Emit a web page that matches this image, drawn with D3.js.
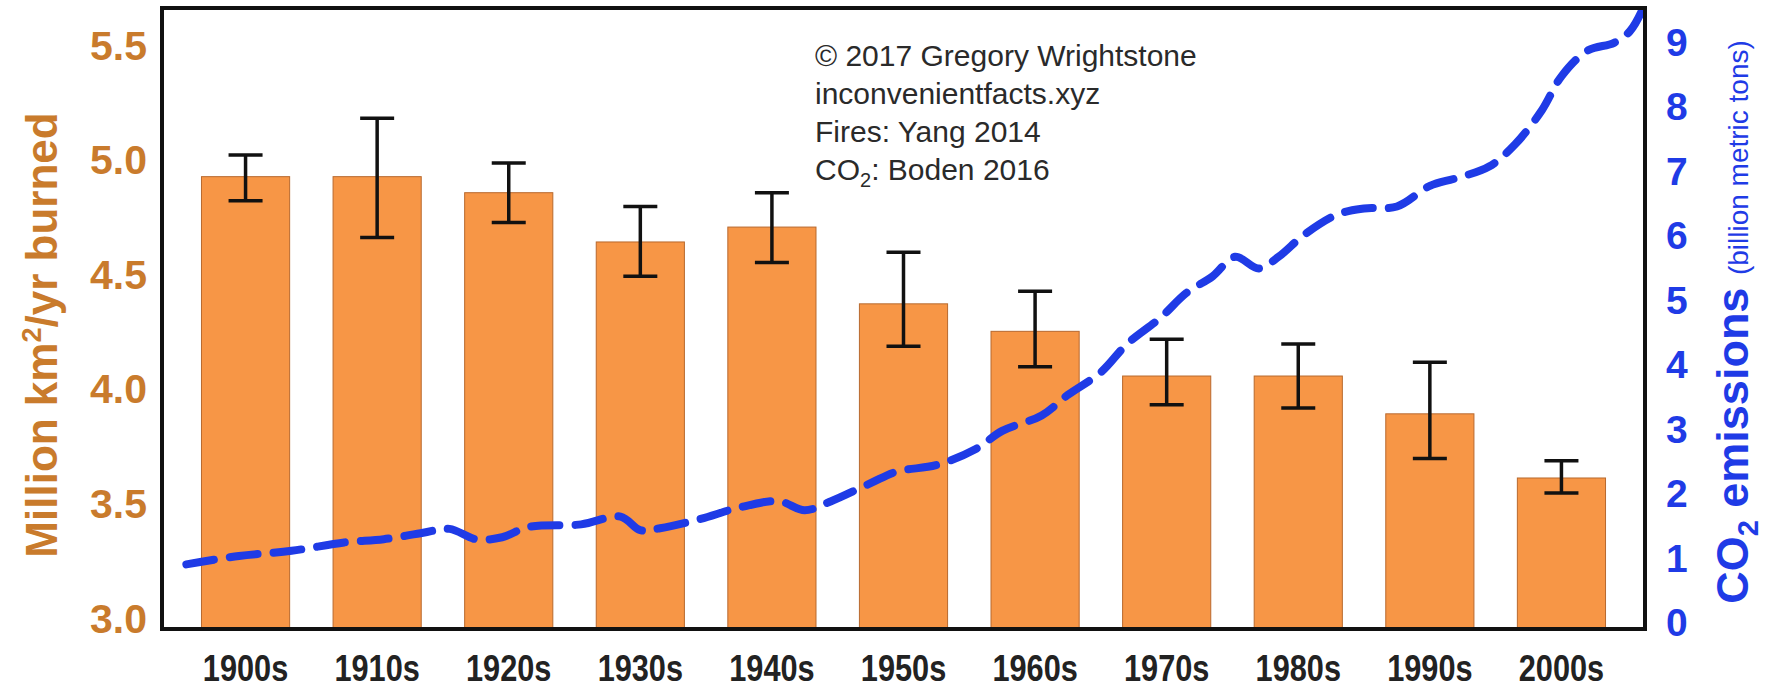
<!DOCTYPE html>
<html>
<head>
<meta charset="utf-8">
<script src="https://cdn.jsdelivr.net/npm/d3@7"></script>
<style>
  html, body { margin: 0; padding: 0; background: #fff; }
  #chart { width: 1768px; height: 690px; }
</style>
</head>
<body>
<div id="chart"></div>
<script>
// decades and burned area (million km2/yr) with error range
const decades = ["1900s", "1910s", "1920s", "1930s", "1940s", "1950s", "1960s", "1970s", "1980s", "1990s", "2000s"];
const burned = [4.93, 4.93, 4.86, 4.645, 4.71, 4.375, 4.255, 4.06, 4.06, 3.895, 3.615];
const burnedLow = [4.825, 4.665, 4.73, 4.495, 4.555, 4.19, 4.10, 3.935, 3.92, 3.70, 3.55];
const burnedHigh = [5.025, 5.185, 4.99, 4.80, 4.86, 4.60, 4.43, 4.22, 4.20, 4.12, 3.69];

// CO2 emissions (billion metric tons)
const co2Years = [1900, 1904, 1908, 1912, 1915, 1918, 1920, 1922, 1924, 1926, 1930, 1933, 1934.5, 1936, 1939, 1942, 1945, 1947, 1949, 1952, 1954, 1957, 1960, 1962, 1965, 1967, 1969.5, 1971.5, 1974, 1976, 1978, 1979.7, 1981.5, 1983, 1985, 1987.5, 1989.5, 1992, 1994.5, 1996.5, 1999, 2001, 2003, 2004.5, 2006.5, 2008.5, 2009.7, 2010.6];
const co2Values = [0.91, 1.04, 1.12, 1.25, 1.30, 1.40, 1.46, 1.30, 1.33, 1.49, 1.53, 1.65, 1.44, 1.47, 1.61, 1.79, 1.89, 1.75, 1.89, 2.17, 2.35, 2.45, 2.70, 2.98, 3.22, 3.54, 3.89, 4.33, 4.73, 5.12, 5.38, 5.68, 5.50, 5.68, 6.03, 6.34, 6.43, 6.46, 6.78, 6.90, 7.08, 7.43, 7.95, 8.48, 8.88, 9.00, 9.18, 9.49];

const leftTicks = [3.0, 3.5, 4.0, 4.5, 5.0, 5.5];
const rightTicks = [0, 1, 2, 3, 4, 5, 6, 7, 8, 9];

const notes = ["© 2017 Gregory Wrightstone", "inconvenientfacts.xyz", "Fires: Yang 2014"];

const width = 1768;
const height = 690;
const marginTop = 8;
const marginRight = 123;
const marginBottom = 61;
const marginLeft = 162;

const orange = "#c97b2c";
const blue = "#1f3be6";

const svg = d3.select("#chart")
    .append("svg")
    .attr("width", width)
    .attr("height", height)
    .attr("viewBox", `0 0 ${width} ${height}`)
    .style("font-family", "'Liberation Sans', Arial, sans-serif");

// x band scale for the bars
const x = d3.scaleBand()
    .domain(decades)
    .range([marginLeft, width - marginRight])
    .paddingInner(0.33)
    .paddingOuter(0.3);

// year scale for the line, decade midpoints sit on bar centres
const xYear = d3.scaleLinear()
    .domain([1904.5, 2004.5])
    .range([x("1900s") + x.bandwidth() / 2, x("2000s") + x.bandwidth() / 2]);

const y = d3.scaleLinear()
    .domain([2.956, 5.666])
    .range([height - marginBottom, marginTop]);

const y2 = d3.scaleLinear()
    .domain([-0.093, 9.54])
    .range([height - marginBottom, marginTop]);

// bars
svg.append("g")
    .selectAll("rect")
    .data(decades)
    .join("rect")
    .attr("x", d => x(d))
    .attr("y", (d, i) => y(burned[i]))
    .attr("width", x.bandwidth())
    .attr("height", (d, i) => y(y.domain()[0]) - y(burned[i]))
    .attr("fill", "#f79646")
    .attr("stroke", "#b8692e")
    .attr("stroke-width", 1);

// error bars
const capHalf = 17;
const err = svg.append("g")
    .attr("stroke", "#111")
    .attr("stroke-width", 3.5);

decades.forEach((d, i) => {
    const cx = x(d) + x.bandwidth() / 2;
    err.append("line")
        .attr("x1", cx).attr("x2", cx)
        .attr("y1", y(burnedLow[i])).attr("y2", y(burnedHigh[i]));
    err.append("line")
        .attr("x1", cx - capHalf).attr("x2", cx + capHalf)
        .attr("y1", y(burnedLow[i])).attr("y2", y(burnedLow[i]));
    err.append("line")
        .attr("x1", cx - capHalf).attr("x2", cx + capHalf)
        .attr("y1", y(burnedHigh[i])).attr("y2", y(burnedHigh[i]));
});

// CO2 dashed line
const co2 = co2Years.map((yr, i) => ({ year: yr, value: co2Values[i] }));
const line = d3.line()
    .x(d => xYear(d.year))
    .y(d => y2(d.value))
    .curve(d3.curveCatmullRom);

svg.append("path")
    .datum(co2)
    .attr("fill", "none")
    .attr("stroke", blue)
    .attr("stroke-width", 8)
    .attr("stroke-linecap", "round")
    .attr("stroke-dasharray", "28 16")
    .attr("d", line);

// plot frame
svg.append("rect")
    .attr("x", marginLeft)
    .attr("y", marginTop)
    .attr("width", width - marginLeft - marginRight)
    .attr("height", height - marginTop - marginBottom)
    .attr("fill", "none")
    .attr("stroke", "#111")
    .attr("stroke-width", 4);

// left axis
svg.append("g")
    .attr("transform", `translate(${marginLeft},0)`)
    .call(d3.axisLeft(y).tickValues(leftTicks).tickFormat(d3.format(".1f")).tickSize(0).tickPadding(15))
    .call(g => g.select(".domain").remove())
    .selectAll(".tick text")
    .attr("fill", orange)
    .style("font-family", "'Liberation Sans', Arial, sans-serif")
    .style("font-weight", "bold")
    .style("font-size", "41px");

// right axis
svg.append("g")
    .attr("transform", `translate(${width - marginRight},0)`)
    .call(d3.axisRight(y2).tickValues(rightTicks).tickFormat(d3.format("d")).tickSize(0).tickPadding(21))
    .call(g => g.select(".domain").remove())
    .selectAll(".tick text")
    .attr("fill", blue)
    .style("font-family", "'Liberation Sans', Arial, sans-serif")
    .style("font-weight", "bold")
    .style("font-size", "39px");

// bottom axis, narrow bold labels
svg.append("g")
    .attr("transform", `translate(0,${height - marginBottom})`)
    .call(d3.axisBottom(x).tickSize(0).tickPadding(0))
    .call(g => g.select(".domain").remove())
    .selectAll(".tick text")
    .attr("dy", null)
    .attr("y", 52)
    .attr("transform", "scale(0.83,1)")
    .attr("fill", "#222")
    .style("font-family", "'Liberation Sans', Arial, sans-serif")
    .style("font-weight", "bold")
    .style("font-size", "37px");

// left axis title
const leftTitle = svg.append("text")
    .attr("transform", "translate(57,335) rotate(-90)")
    .attr("text-anchor", "middle")
    .attr("fill", orange)
    .style("font-weight", "bold")
    .style("font-size", "44px");
leftTitle.append("tspan").text("Million km");
leftTitle.append("tspan").attr("dy", -16).style("font-size", "27px").text("2");
leftTitle.append("tspan").attr("dy", 16).text("/yr burned");

// right axis title
const rightTitle = svg.append("text")
    .attr("transform", "translate(1748,322) rotate(-90)")
    .attr("text-anchor", "middle")
    .attr("fill", blue);
rightTitle.append("tspan").style("font-weight", "bold").style("font-size", "45px").text("CO");
rightTitle.append("tspan").attr("dy", 10).style("font-weight", "bold").style("font-size", "29px").text("2");
rightTitle.append("tspan").attr("dy", -10).style("font-weight", "bold").style("font-size", "45px").text(" emissions ");
rightTitle.append("tspan").style("font-size", "28px").text("(billion metric tons)");

// source notes
const noteG = svg.append("g")
    .attr("fill", "#2a2a2a")
    .style("font-size", "30px");
notes.forEach((t, i) => {
    noteG.append("text")
        .attr("x", 815)
        .attr("y", 66 + i * 38)
        .text(t);
});
const co2Note = noteG.append("text")
    .attr("x", 815)
    .attr("y", 66 + 3 * 38);
co2Note.append("tspan").text("CO");
co2Note.append("tspan").attr("dy", 7).style("font-size", "20px").text("2");
co2Note.append("tspan").attr("dy", -7).text(": Boden 2016");
</script>
</body>
</html>
